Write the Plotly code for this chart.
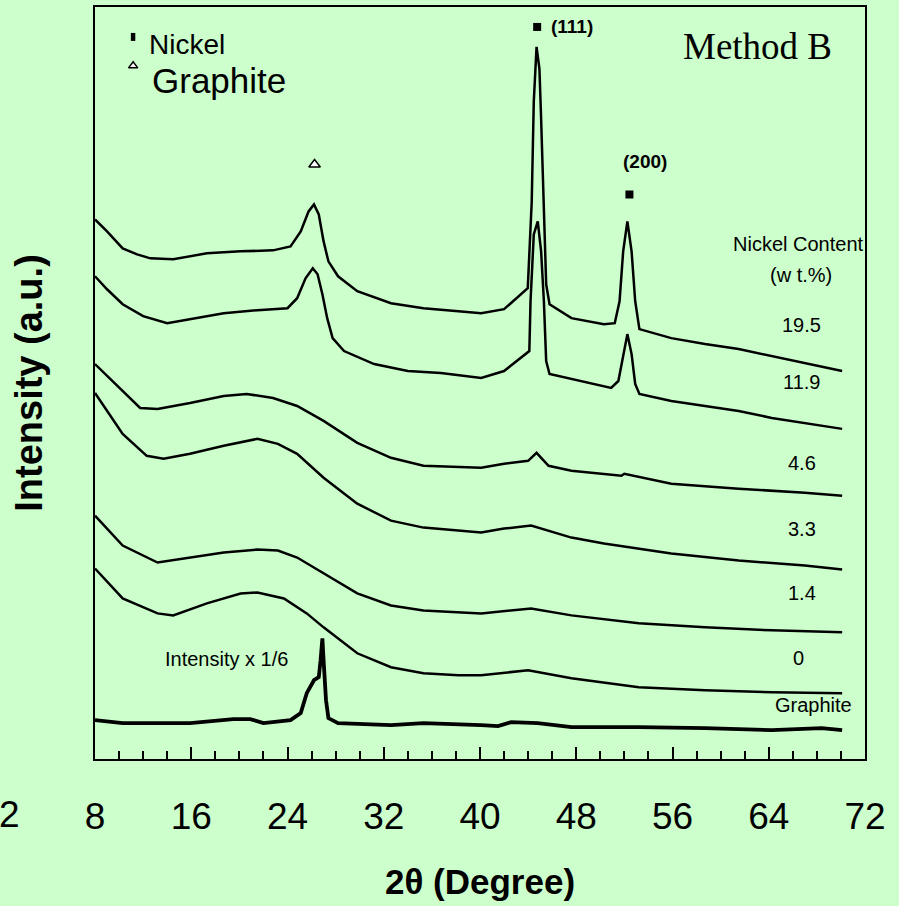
import plotly.graph_objects as go

# 2-theta (degree) sample positions and intensity (a.u., stacked offsets)
x_195 = [8.0, 9.0, 10.3, 11.5, 12.6, 14.5, 17.3, 20.1, 22.8, 24.25, 25.1, 25.75, 26.2, 26.6, 27.0, 27.4, 28.2, 29.8,
         32.6, 35.3, 38.2, 40.1, 42.0, 43.4, 43.97, 44.3, 44.47, 44.7, 44.94, 45.08, 45.31, 45.5, 45.78, 47.6, 50.3,
         51.2, 51.6, 51.9, 52.25, 52.6, 52.9, 53.25, 55.9, 58.7, 61.5, 64.25, 67.0, 70.1]
y_195 = [541, 529, 512, 506, 502, 501, 507, 509, 510, 514, 529, 549, 556, 546, 519, 499, 484, 469,
         457, 452, 449, 447, 451, 466, 472, 559, 659, 714, 692, 642, 559, 476, 456, 442, 436,
         437, 459, 509, 539, 509, 459, 431, 422, 416, 411, 404, 397, 389]

x_119 = [8.0, 9.0, 10.3, 12.0, 14.0, 15.9, 18.7, 21.5, 24.0, 24.8, 25.5, 26.1, 26.5, 26.9, 27.3, 27.75, 28.7, 31.2,
         34.0, 36.75, 40.1, 42.0, 43.4, 44.1, 44.2, 44.47, 44.8, 45.08, 45.31, 45.5, 45.78, 47.6, 50.9, 51.5,
         51.9, 52.25, 52.6, 52.9, 53.25, 55.9, 58.7, 61.5, 64.25, 67.0, 70.1]
y_119 = [484, 471, 456, 444, 437, 441, 447, 450, 452, 462, 482, 492, 486, 466, 442, 422, 409, 396,
         389, 387, 382, 389, 402, 409, 459, 526, 539, 509, 459, 399, 386, 381, 372, 379,
         406, 426, 406, 376, 366, 359, 354, 349, 342, 337, 331]

x_46 = [8.0, 10.3, 11.75, 13.2, 15.9, 18.7, 20.6, 22.8, 24.8, 27.0, 29.8, 32.6, 35.3, 40.1, 42.0, 44.0, 44.7,
        45.7, 47.6, 51.75, 52.0, 55.9, 61.5, 67.0, 70.1]
y_46 = [396, 369, 352, 351, 357, 364, 366, 362, 354, 339, 317, 302, 294, 292, 296, 299, 307,
        294, 289, 284, 286, 276, 271, 267, 264]

x_33 = [8.0, 10.3, 12.3, 13.7, 15.9, 18.7, 21.5, 23.2, 24.8, 27.0, 29.8, 32.6, 35.3, 40.1, 42.0, 44.25, 47.6,
        50.3, 55.9, 61.5, 67.0, 70.1]
y_33 = [367, 326, 304, 301, 306, 314, 321, 316, 306, 282, 256, 239, 232, 227, 231, 234, 222,
        216, 206, 199, 194, 190]

x_14 = [8.0, 10.3, 13.2, 15.9, 18.7, 21.5, 23.2, 24.8, 27.0, 29.8, 32.6, 35.3, 40.1, 44.25, 47.6, 53.2, 58.7,
        64.25, 70.1]
y_14 = [244, 214, 197, 202, 207, 210, 209, 202, 186, 166, 154, 149, 146, 151, 144, 136, 132,
        129, 127]

x_0 = [8.0, 10.3, 13.2, 14.5, 17.3, 20.1, 21.5, 23.7, 25.6, 27.0, 29.8, 32.6, 35.3, 38.2, 40.1, 44.0, 47.6,
       53.2, 58.7, 64.25, 70.1]
y_0 = [191, 161, 146, 144, 156, 166, 167, 161, 146, 132, 106, 92, 86, 84, 84, 89, 81,
       72, 69, 67, 66]

x_gr = [8.0, 10.3, 13.2, 15.9, 19.5, 20.9, 22.0, 24.25, 25.1, 25.6, 26.2, 26.6, 26.75, 26.9, 27.0, 27.2, 27.4,
        28.2, 32.6, 35.3, 40.1, 41.5, 42.6, 44.8, 47.6, 53.2, 58.7, 64.25, 68.4, 70.1]
y_gr = [39, 36, 36, 36, 40, 40, 36, 39, 46, 66, 79, 82, 99, 121, 99, 59, 41,
        36, 34, 36, 34, 33, 37, 36, 32, 32, 31, 29, 31, 29]

series_labels = ["19.5", "11.9", "4.6", "3.3", "1.4", "0", "Graphite"]
x_ticks = [8, 16, 24, 32, 40, 48, 56, 64, 72]

BG = "#ccffcc"
FONT = "Arial, Liberation Sans, sans-serif"

fig = go.Figure()
for xs, ys in [(x_195, y_195), (x_119, y_119), (x_46, y_46), (x_33, y_33), (x_14, y_14), (x_0, y_0)]:
    fig.add_trace(go.Scatter(x=xs, y=ys, mode="lines", line=dict(color="black", width=2.5),
                             showlegend=False, hoverinfo="skip"))
fig.add_trace(go.Scatter(x=x_gr, y=y_gr, mode="lines", line=dict(color="black", width=3.8),
                         showlegend=False, hoverinfo="skip"))

# peak markers
fig.add_trace(go.Scatter(x=[44.75, 52.42], y=[734, 566], mode="markers",
                         marker=dict(symbol="square", size=8, color="black"),
                         showlegend=False, hoverinfo="skip", cliponaxis=False))
fig.add_trace(go.Scatter(x=[26.25], y=[596], mode="markers",
                         marker=dict(symbol="triangle-up", size=10, color="white",
                                     line=dict(color="black", width=1.5)),
                         showlegend=False, hoverinfo="skip"))
# legend markers
fig.add_trace(go.Scatter(x=[11.17], y=[695], mode="markers",
                         marker=dict(symbol="triangle-up", size=8, color="white",
                                     line=dict(color="black", width=1.5)),
                         showlegend=False, hoverinfo="skip"))
fig.add_shape(type="rect", x0=10.98, x1=11.35, y0=720, y1=728, fillcolor="black", line=dict(width=0))

def ann(text, x, y, size, xanchor="center", bold=False, family=FONT):
    fig.add_annotation(text=("<b>%s</b>" % text) if bold else text, x=x, y=y, xref="x", yref="y",
                       showarrow=False, xanchor=xanchor, yanchor="middle",
                       font=dict(size=size, color="black", family=family))

ann("Nickel", 12.33, 716, 28, xanchor="left")
ann("Graphite", 12.6, 680, 35, xanchor="left")
ann("(111)", 45.7, 734, 19, xanchor="left", bold=True)
ann("(200)", 53.75, 599, 19, bold=True)
ann("Method B", 63.1, 714, 37, family="Liberation Serif, Times New Roman, serif")
ann("Nickel Content", 66.5, 516, 20)
ann("(w t.%)", 66.67, 485, 20)
label_pos = [(66.75, 435), (66.75, 378), (66.75, 297), (66.75, 231), (66.75, 166), (66.5, 101), (67.75, 54)]
for lab, (lx, ly) in zip(series_labels, label_pos):
    ann(lab, lx, ly, 20)
ann("Intensity x 1/6", 18.92, 100, 20)

fig.add_annotation(text="2", x=-0.1104, y=-0.074, xref="paper", yref="paper", showarrow=False,
                   xanchor="center", yanchor="middle", font=dict(size=37, color="black", family=FONT))

fig.update_layout(
    width=899, height=906,
    margin=dict(l=95, r=34, t=5, b=147),
    paper_bgcolor=BG, plot_bgcolor=BG,
    font=dict(family=FONT, color="black"),
    xaxis=dict(range=[8, 72], tickvals=x_ticks, ticktext=[str(t) for t in x_ticks],
               ticks="inside", ticklen=12, tickwidth=1.5, tickcolor="black",
               minor=dict(dtick=2, tick0=8, ticks="inside", ticklen=8, tickwidth=1.5, tickcolor="black"),
               showline=True, linecolor="black", linewidth=2, mirror=True,
               showgrid=False, zeroline=False,
               tickfont=dict(size=37, color="black"), ticklabelstandoff=24,
               title=dict(text="<b>2θ (Degree)</b>", font=dict(size=35, color="black"), standoff=33)),
    yaxis=dict(range=[0, 754], showticklabels=False, ticks="",
               showline=True, linecolor="black", linewidth=2, mirror=True,
               showgrid=False, zeroline=False,
               title=dict(text="<b>Intensity (a.u.)</b>", font=dict(size=38, color="black"), standoff=39)),
)

fig.write_html("out.html")
